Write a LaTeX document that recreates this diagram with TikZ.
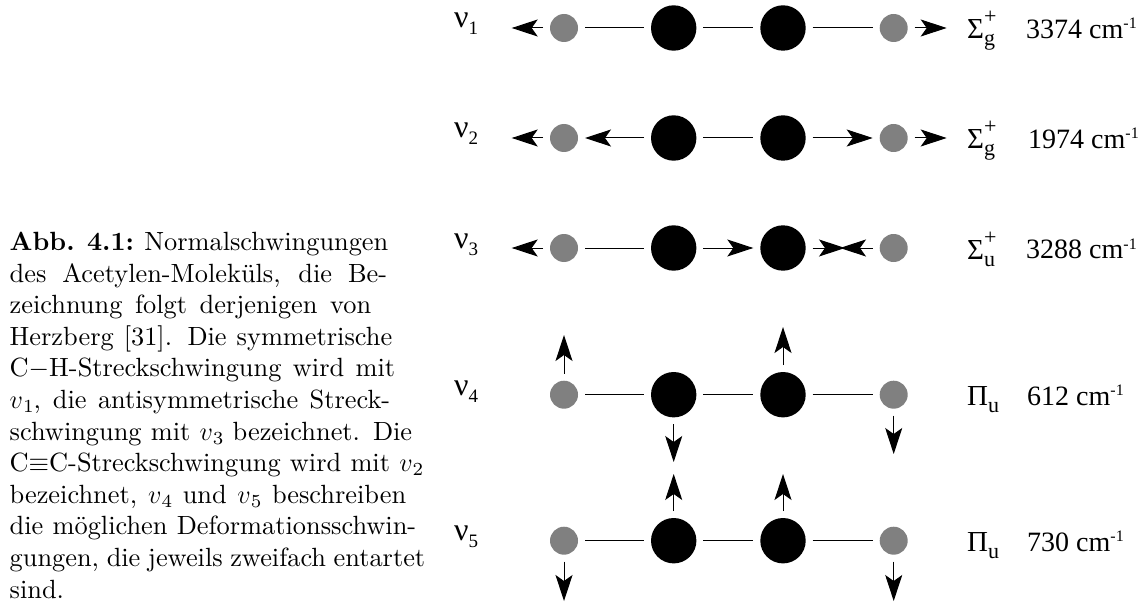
\documentclass[tikz,border=0pt]{standalone}
\usepackage{fix-cm}
\usepackage{fontspec}
\setmainfont{Latin Modern Roman}
\newfontfamily\capf{lmroman10-regular.otf}[BoldFont=lmroman10-bold.otf]
\newfontfamily\subf{lmroman7-regular.otf}
\newfontfamily\lab{Liberation Serif}
\DeclareMathSizes{26.35}{26.35}{18.45}{13.2}
\usetikzlibrary{arrows.meta}
\newcommand{\Ln}[2]{\hbox to #1pt{#2}}
\newcommand{\Vs}[1]{$v$\raisebox{-4pt}{\subf\fontsize{18.45}{18.45}\selectfont #1}}
\newcommand{\Nu}[1]{{\fontsize{32}{32}\selectfont ν}\raisebox{-7pt}{\fontsize{19}{19}\selectfont #1}}
\newcommand{\SP}[3]{{\fontsize{29}{29}\selectfont #1}\rlap{\raisebox{15pt}{\fontsize{22}{22}\selectfont #2}}\raisebox{-7pt}{\fontsize{22}{22}\selectfont #3}}
\newcommand{\Wn}[1]{{\fontsize{28}{28}\selectfont #1 cm}\raisebox{9.5pt}{\fontsize{16}{16}\selectfont -1}}
\tikzset{x=1pt,y=-1pt,
  gatom/.style={circle,fill=black!50!white,draw=none,inner sep=0pt,minimum size=28pt,outer sep=7pt},
  batom/.style={circle,fill=black,draw=none,inner sep=0pt,minimum size=45.4pt,outer sep=7pt},
  bond/.style={draw=black,line width=1pt},
  vib/.style={bond,-{Stealth[length=26pt,width=17pt,inset=6pt]}},
  lbl/.style={anchor=base west,inner sep=0pt,font=\lab},
}
\begin{document}
\begin{tikzpicture}
\useasboundingbox (0,0) rectangle (1145,604);
% caption
\node[anchor=north west,inner sep=0pt] (cap) at (9.5,232) {\vbox{\capf\fontsize{26.35}{31.6}\selectfont\hsize=416pt
\Ln{378.5}{\textbf{Abb. 4.1:} Normalschwingungen}
\Ln{377.5}{des Acetylen-Moleküls, die Be-}
\Ln{361.5}{zeichnung folgt derjenigen von}
\Ln{382.5}{Herzberg [31]. Die symmetrische}
\Ln{385.5}{C$-$H-Streckschwingung wird mit}
\Ln{380.5}{\Vs{1}, die antisymmetrische Streck-}
\Ln{402.5}{schwingung mit \Vs{3} bezeichnet. Die}
\Ln{413.5}{C$\equiv$C-Streckschwingung wird mit \Vs{2}}
\Ln{396.5}{bezeichnet, \Vs{4} und \Vs{5} beschreiben}
\Ln{406.5}{die möglichen Deformationsschwin-}
\Ln{415.5}{gungen, die jeweils zweifach entartet}
\Ln{416}{sind.\hss}}};
% atoms
\foreach \r/\y in {1/28,2/138,3/248,4/394.7,5/540.7}{
  \node[gatom] (gl\r) at (564,\y) {};
  \node[batom] (bl\r) at (673.7,\y) {};
  \node[batom] (br\r) at (783,\y) {};
  \node[gatom] (gr\r) at (893.7,\y) {};
}
% free ends
\coordinate (a1l) at (511.7,28);\coordinate (a1r) at (946.7,28);
\coordinate (a2l) at (511.7,138);\coordinate (a2r) at (946.7,138);
\coordinate (a3l) at (511.7,248);
\coordinate (a3a) at (845,248);\coordinate (a3b) at (840,248);
\coordinate (a4a) at (564,335);\coordinate (a4b) at (673.7,462);\coordinate (a4c) at (783,327);\coordinate (a4d) at (893.7,454);
\coordinate (a5a) at (564,601);\coordinate (a5b) at (673.7,474);\coordinate (a5c) at (783,474);\coordinate (a5d) at (893.7,601);
% row 1
\draw[bond] (gl1)--(bl1); \draw[bond] (bl1)--(br1); \draw[bond] (br1)--(gr1);
\draw[vib] (gl1)--(a1l); \draw[vib] (gr1)--(a1r);
% row 2
\draw[vib] (bl2)--(gl2); \draw[bond] (bl2)--(br2); \draw[vib] (br2)--(gr2);
\draw[vib] (gl2)--(a2l); \draw[vib] (gr2)--(a2r);
% row 3
\draw[bond] (gl3)--(bl3); \draw[vib] (bl3)--(br3);
\draw[vib] (gl3)--(a3l); \draw[vib] (br3)--(a3a); \draw[vib] (gr3)--(a3b);
% row 4
\draw[bond] (gl4)--(bl4); \draw[bond] (bl4)--(br4); \draw[bond] (br4)--(gr4);
\draw[vib] (gl4)--(a4a); \draw[vib] (bl4)--(a4b); \draw[vib] (br4)--(a4c); \draw[vib] (gr4)--(a4d);
% row 5
\draw[bond] (gl5)--(bl5); \draw[bond] (bl5)--(br5); \draw[bond] (br5)--(gr5);
\draw[vib] (gl5)--(a5a); \draw[vib] (bl5)--(a5b); \draw[vib] (br5)--(a5c); \draw[vib] (gr5)--(a5d);
% labels
\node[lbl] (n1) at (454,28) {\Nu{1}};
\node[lbl] (n2) at (454,138) {\Nu{2}};
\node[lbl] (n3) at (454,248) {\Nu{3}};
\node[lbl] (n4) at (454,395) {\Nu{4}};
\node[lbl] (n5) at (454,540) {\Nu{5}};
\node[lbl] (s1) at (967,39) {\SP{Σ}{+}{g}};
\node[lbl] (s2) at (967,149) {\SP{Σ}{+}{g}};
\node[lbl] (s3) at (967,259) {\SP{Σ}{+}{u}};
\node[lbl] (s4) at (967,405) {\SP{Π}{}{u}};
\node[lbl] (s5) at (967,551) {\SP{Π}{}{u}};
\node[lbl] (w1) at (1026,38.5) {\Wn{3374}};
\node[lbl] (w2) at (1028,148.5) {\Wn{1974}};
\node[lbl] (w3) at (1026,258.5) {\Wn{3288}};
\node[lbl] (w4) at (1027,405) {\Wn{612}};
\node[lbl] (w5) at (1027,551) {\Wn{730}};
\end{tikzpicture}
\end{document}
